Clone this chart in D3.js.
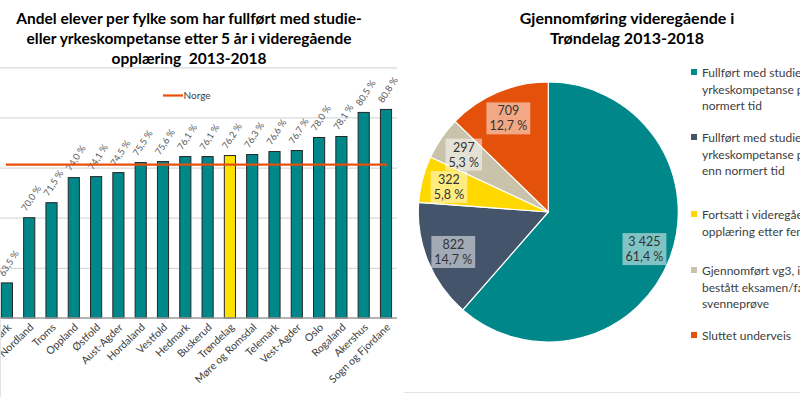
<!DOCTYPE html>
<html><head><meta charset="utf-8">
<script src="https://cdn.jsdelivr.net/npm/d3@7/dist/d3.min.js"></script>
<style>
html,body{margin:0;padding:0;background:#fff;}
svg{display:block;font-family:Lato,"Open Sans",sans-serif;}
</style></head>
<body>
<svg id="c" width="800" height="397"></svg>
<script>
// ---- data: bar chart ----
const counties = ["Finnmark","Nordland","Troms","Oppland","Østfold","Aust-Agder","Hordaland","Vestfold","Hedmark","Buskerud","Trøndelag","Møre og Romsdal","Telemark","Vest-Agder","Oslo","Rogaland","Akershus","Sogn og Fjordane"];
const shares = [63.5,70.0,71.5,74.0,74.1,74.5,75.5,75.6,76.1,76.1,76.2,76.3,76.6,76.7,78.0,78.1,80.5,80.8];
const norgeValue = 75.3;
const highlighted = "Trøndelag";
const yTicks = [60,65,70,75,80,85];
const barTitle = ["Andel elever per fylke som har fullført med studie-","eller yrkeskompetanse etter 5 år i videregående","opplæring  2013-2018"];
const lineLegend = "Norge";

// ---- data: pie chart ----
const pieCategories = ["Fullført med studie- eller yrkeskompetanse på normert tid","Fullført med studie- eller yrkeskompetanse på mer enn normert tid","Fortsatt i videregående opplæring etter fem år","Gjennomført vg3, ikke bestått eksamen/fag- eller svenneprøve","Sluttet underveis"];
const pieLegendLines = [["Fullført med studie- eller","yrkeskompetanse på","normert tid"],["Fullført med studie- eller","yrkeskompetanse på mer","enn normert tid"],["Fortsatt i videregående","opplæring etter fem år"],["Gjennomført vg3, ikke","bestått eksamen/fag- eller","svenneprøve"],["Sluttet underveis"]];
const pieValues = [3425,822,322,297,709];
const pieColors = ["#00878A","#44546A","#FFD800","#C8C3AA","#E4510A"];
const pieTitle = ["Gjennomføring videregående i","Trøndelag 2013-2018"];

const loc = d3.formatLocale({decimal:",",thousands:"\u00a0",grouping:[3],currency:["","kr"]});
const fPct = v => loc.format(".1f")(v) + " %";
const fNum = loc.format(",d");

const svg = d3.select("#c");

// ================= BAR CHART =================
const x = d3.scaleBand().domain(counties).range([-4.25,397.15]).paddingInner(0.5).paddingOuter(0.25);
const y = d3.scaleLinear().domain([60,85]).range([318,67.3]);

// title
svg.append("g").selectAll("text").data(barTitle).join("text")
  .attr("x",189).attr("y",(d,i)=>24+i*20)
  .attr("text-anchor","middle").attr("font-weight","bold").attr("font-size",15.5).attr("fill","#000")
  .style("white-space","pre")
  .text(d=>d);

// gridlines via axis
const gAxis = svg.append("g")
  .call(d3.axisLeft(y).tickValues(yTicks).tickSize(-397).tickFormat(""));
gAxis.select(".domain").remove();
gAxis.selectAll(".tick line").attr("stroke","#D9D9D9").attr("stroke-width",1.2);
gAxis.selectAll(".tick").filter(d=>d===60).remove();

// bars
svg.append("g").selectAll("rect").data(counties).join("rect")
  .attr("x",d=>x(d)).attr("width",x.bandwidth())
  .attr("y",(d,i)=>y(shares[i])).attr("height",(d,i)=>y(60)-y(shares[i]))
  .attr("fill",d=>d===highlighted?"#FFE100":"#00878A")
  .attr("stroke","#262626").attr("stroke-width",1);

// baseline
svg.append("line").attr("x1",0).attr("x2",397).attr("y1",y(60)).attr("y2",y(60))
  .attr("stroke","#9a9a9a").attr("stroke-width",1.3);

// x axis labels
const gx = svg.append("g").attr("transform",`translate(0,${y(60)})`)
  .call(d3.axisBottom(x).tickSize(0).tickPadding(0));
gx.select(".domain").remove();
gx.selectAll(".tick text")
  .attr("font-family","Lato,sans-serif").attr("font-size",10.5).attr("fill","#404040")
  .attr("text-anchor","end").attr("dy",0)
  .attr("transform","translate(5,10) rotate(-44)");

// value labels
svg.append("g").selectAll("text").data(counties).join("text")
  .attr("transform",(d,i)=>`translate(${x(d)+x.bandwidth()/2-3},${y(shares[i])-6}) rotate(-57)`)
  .attr("font-size",9.3).attr("fill","#595959")
  .text((d,i)=>fPct(shares[i]));

// Norge line
svg.append("line")
  .attr("x1",x(counties[0])+x.bandwidth()/2-1).attr("x2",x(counties[counties.length-1])+x.bandwidth()/2+1)
  .attr("y1",y(norgeValue)).attr("y2",y(norgeValue))
  .attr("stroke","#E8500A").attr("stroke-width",2.2);

// legend
svg.append("line").attr("x1",163).attr("x2",183).attr("y1",95.5).attr("y2",95.5)
  .attr("stroke","#E8500A").attr("stroke-width",2.2);
svg.append("text").attr("x",183.5).attr("y",99).attr("font-size",10).attr("fill","#404040").text(lineLegend);

// frame lines
svg.append("line").attr("x1",0.5).attr("x2",0.5).attr("y1",y(60)).attr("y2",397).attr("stroke","#e4e4e4");
svg.append("line").attr("x1",404).attr("x2",800).attr("y1",392.5).attr("y2",392.5).attr("stroke","#e4e4e4");

// ================= PIE CHART =================
const cx = 548.3, cy = 212, R = 130;
svg.append("g").selectAll("text").data(pieTitle).join("text")
  .attr("x",627).attr("y",(d,i)=>24+i*20)
  .attr("text-anchor","middle").attr("font-weight","bold").attr("font-size",16).attr("fill","#000")
  .text(d=>d);

const pie = d3.pie().sort(null).value(d=>d)(pieValues);
const arc = d3.arc().innerRadius(0).outerRadius(R);
const gp = svg.append("g").attr("transform",`translate(${cx},${cy})`);
gp.selectAll("path").data(pie).join("path")
  .attr("d",arc).attr("fill",(d,i)=>pieColors[i])
  .attr("stroke","#fff").attr("stroke-width",1.2);

const total = d3.sum(pieValues);
const labelArc = d3.arc().innerRadius(R*0.79).outerRadius(R*0.79);
const lab = gp.selectAll("g.lab").data(pie).join("g").attr("class","lab")
  .attr("transform",d=>`translate(${labelArc.centroid(d)})`);
lab.each(function(d,i){
  const g = d3.select(this);
  const l1 = fNum(d.value), l2 = fPct(d.value/total*100);
  const t1 = g.append("text").attr("text-anchor","middle").attr("y",-2).attr("font-size",12.5).attr("fill","#333").text(l1);
  const t2 = g.append("text").attr("text-anchor","middle").attr("y",13).attr("font-size",12.5).attr("fill","#333").text(l2);
  const w = Math.max(t1.node().getComputedTextLength(), t2.node().getComputedTextLength()) + 6;
  g.insert("rect","text").attr("x",-w/2).attr("y",-15).attr("width",w).attr("height",32)
    .attr("fill","#fff").attr("fill-opacity",0.5);
});

// legend
const legTops = [77,142,219,275,340];
const gl = svg.append("g");
pieLegendLines.forEach((lines,i)=>{
  gl.append("rect").attr("x",691).attr("y",legTops[i]-8).attr("width",6).attr("height",6).attr("fill",pieColors[i]);
  lines.forEach((ln,j)=>{
    gl.append("text").attr("x",702).attr("y",legTops[i]+j*16.5).attr("font-size",12).attr("fill","#404040").text(ln);
  });
});
</script>
</body></html>
